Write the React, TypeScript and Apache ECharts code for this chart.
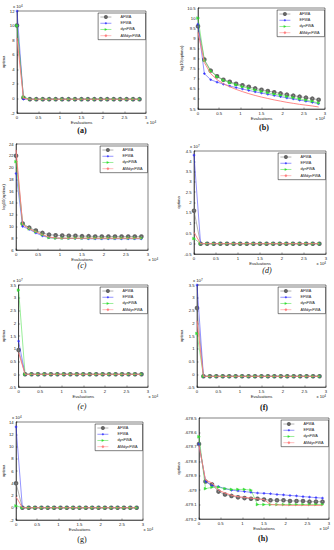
import React, { useEffect, useRef } from "react";
import * as echarts from "echarts";

const METHODS = ["AFWA", "EFWA", "dynFWA", "AMdynFWA"];
const XS = [0, 0.15, 0.3, 0.45, 0.6, 0.75, 0.9, 1.05, 1.2, 1.35, 1.5, 1.65, 1.8, 1.95, 2.1, 2.25, 2.4, 2.55, 2.7, 2.85];

// (a)
const A_AFWA = [10.0, 0.1, -0.1, -0.1, -0.1, -0.1, -0.1, -0.1, -0.1, -0.1, -0.1, -0.1, -0.1, -0.1, -0.1, -0.1, -0.1, -0.1, -0.1, -0.1];
const A_EFWA = [12.0, -0.1, -0.1, -0.1, -0.1, -0.1, -0.1, -0.1, -0.1, -0.1, -0.1, -0.1, -0.1, -0.1, -0.1, -0.1, -0.1, -0.1, -0.1, -0.1];
const A_DYN = [10.0, 0.2, -0.1, -0.1, -0.1, -0.1, -0.1, -0.1, -0.1, -0.1, -0.1, -0.1, -0.1, -0.1, -0.1, -0.1, -0.1, -0.1, -0.1, -0.1];
const A_AM = [8.3, 0.0, -0.1, -0.1, -0.1, -0.1, -0.1, -0.1, -0.1, -0.1, -0.1, -0.1, -0.1, -0.1, -0.1, -0.1, -0.1, -0.1, -0.1, -0.1];
// (b)
const B_AFWA = [9.6, 7.95, 7.4, 7.12, 6.95, 6.85, 6.75, 6.67, 6.6, 6.52, 6.45, 6.39, 6.33, 6.27, 6.21, 6.16, 6.11, 6.06, 6.01, 5.96];
const B_EFWA = [9.7, 7.25, 6.95, 6.83, 6.73, 6.64, 6.56, 6.49, 6.42, 6.35, 6.29, 6.23, 6.17, 6.11, 6.05, 6.0, 5.94, 5.89, 5.83, 5.76];
const B_DYN = [10.0, 7.9, 7.38, 7.1, 6.92, 6.8, 6.7, 6.6, 6.52, 6.44, 6.37, 6.3, 6.24, 6.18, 6.12, 6.06, 6.0, 5.94, 5.88, 5.8];
const B_AM = [9.3, 7.8, 7.25, 6.95, 6.75, 6.6, 6.47, 6.36, 6.26, 6.17, 6.09, 6.02, 5.95, 5.89, 5.83, 5.78, 5.73, 5.69, 5.65, 5.6];
// (c)
const C_AFWA = [22.0, 10.5, 9.8, 9.3, 8.9, 8.6, 8.5, 8.45, 8.4, 8.4, 8.35, 8.35, 8.3, 8.3, 8.3, 8.3, 8.3, 8.3, 8.3, 8.3];
const C_EFWA = [19.0, 10.0, 9.5, 8.9, 8.4, 8.1, 8.0, 8.0, 7.95, 7.95, 7.95, 7.9, 7.9, 7.9, 7.9, 7.9, 7.9, 7.9, 7.9, 7.9];
const C_DYN = [21.0, 10.4, 9.6, 9.1, 8.6, 8.1, 8.0, 8.0, 8.0, 8.0, 8.0, 8.0, 8.0, 8.0, 8.0, 8.0, 8.0, 8.0, 8.0, 8.0];
const C_AM = [23.0, 10.3, 9.6, 9.1, 8.6, 8.2, 8.05, 8.0, 8.0, 8.0, 8.0, 8.0, 8.0, 8.0, 8.0, 8.0, 8.0, 8.0, 8.0, 8.0];
// (d)
const D_AFWA = [1.6, 0, 0, 0, 0, 0, 0, 0, 0, 0, 0, 0, 0, 0, 0, 0, 0, 0, 0, 0];
const D_EFWA = [4.3, 0, 0, 0, 0, 0, 0, 0, 0, 0, 0, 0, 0, 0, 0, 0, 0, 0, 0, 0];
const D_DYN = [0.25, 0, 0, 0, 0, 0, 0, 0, 0, 0, 0, 0, 0, 0, 0, 0, 0, 0, 0, 0];
const D_AM = [0.55, 0, 0, 0, 0, 0, 0, 0, 0, 0, 0, 0, 0, 0, 0, 0, 0, 0, 0, 0];
// (e)
const E_AFWA = [0.95, 0, 0, 0, 0, 0, 0, 0, 0, 0, 0, 0, 0, 0, 0, 0, 0, 0, 0, 0];
const E_EFWA = [1.3, 0, 0, 0, 0, 0, 0, 0, 0, 0, 0, 0, 0, 0, 0, 0, 0, 0, 0, 0];
const E_DYN = [3.3, 0, 0, 0, 0, 0, 0, 0, 0, 0, 0, 0, 0, 0, 0, 0, 0, 0, 0, 0];
const E_AM = [0.85, 0, 0, 0, 0, 0, 0, 0, 0, 0, 0, 0, 0, 0, 0, 0, 0, 0, 0, 0];
// (f)
const F_AFWA = [2.6, -0.08, -0.08, -0.08, -0.08, -0.08, -0.08, -0.08, -0.08, -0.08, -0.08, -0.08, -0.08, -0.08, -0.08, -0.08, -0.08, -0.08, -0.08, -0.08];
const F_EFWA = [3.5, -0.08, -0.08, -0.08, -0.08, -0.08, -0.08, -0.08, -0.08, -0.08, -0.08, -0.08, -0.08, -0.08, -0.08, -0.08, -0.08, -0.08, -0.08, -0.08];
const F_DYN = [1.6, -0.08, -0.08, -0.08, -0.08, -0.08, -0.08, -0.08, -0.08, -0.08, -0.08, -0.08, -0.08, -0.08, -0.08, -0.08, -0.08, -0.08, -0.08, -0.08];
const F_AM = [2.1, -0.08, -0.08, -0.08, -0.08, -0.08, -0.08, -0.08, -0.08, -0.08, -0.08, -0.08, -0.08, -0.08, -0.08, -0.08, -0.08, -0.08, -0.08, -0.08];
// (g)
const G_AFWA = [4.0, 0, 0, 0, 0, 0, 0, 0, 0, 0, 0, 0, 0, 0, 0, 0, 0, 0, 0, 0];
const G_EFWA = [13.2, 0, 0, 0, 0, 0, 0, 0, 0, 0, 0, 0, 0, 0, 0, 0, 0, 0, 0, 0];
const G_DYN = [0.3, 0, 0, 0, 0, 0, 0, 0, 0, 0, 0, 0, 0, 0, 0, 0, 0, 0, 0, 0];
const G_AM = [1.8, 0, 0, 0, 0, 0, 0, 0, 0, 0, 0, 0, 0, 0, 0, 0, 0, 0, 0, 0];
// (h)
const H_AFWA = [-678.68, -678.94, -678.96, -679.01, -679.03, -679.04, -679.05, -679.055, -679.06, -679.06, -679.065, -679.07, -679.07, -679.07, -679.075, -679.075, -679.075, -679.08, -679.08, -679.08];
const H_EFWA = [-678.68, -678.94, -678.97, -678.975, -678.99, -679.0, -679.005, -679.01, -679.015, -679.02, -679.022, -679.025, -679.03, -679.033, -679.037, -679.04, -679.045, -679.048, -679.052, -679.055];
const H_DYN = [-678.63, -678.99, -678.98, -678.98, -678.99, -678.995, -678.995, -678.995, -679.0, -679.1, -679.1, -679.1, -679.1, -679.1, -679.1, -679.1, -679.1, -679.1, -679.1, -679.1];
const H_AM = [-678.69, -678.93, -678.95, -679.0, -679.02, -679.035, -679.045, -679.05, -679.055, -679.06, -679.065, -679.1, -679.102, -679.104, -679.105, -679.105, -679.105, -679.105, -679.105, -679.105];

const PANEL_DATA = [
  [A_AFWA, A_EFWA, A_DYN, A_AM],
  [B_AFWA, B_EFWA, B_DYN, B_AM],
  [C_AFWA, C_EFWA, C_DYN, C_AM],
  [D_AFWA, D_EFWA, D_DYN, D_AM],
  [E_AFWA, E_EFWA, E_DYN, E_AM],
  [F_AFWA, F_EFWA, F_DYN, F_AM],
  [G_AFWA, G_EFWA, G_DYN, G_AM],
  [H_AFWA, H_EFWA, H_DYN, H_AM],
];
const PANEL_LABELS = ["(a)", "(b)", "(c)", "(d)", "(e)", "(f)", "(g)", "(h)"];
const Y_NAMES = ["optima", "log10(optima)", "log10(optima)", "optima", "optima", "optima", "optima", "optima"];
const Y_MIN = [-2, 5.5, 6, -0.5, -0.5, -0.5, -2, -679.2];
const Y_MAX = [12, 10.5, 24, 4.5, 3.5, 3.5, 14, -678.5];
const Y_STEP = [2, 0.5, 2, 0.5, 0.5, 0.5, 2, 0.1];
const Y_EXP = ["4", "", "", "7", "7", "7", "4", ""];
const X_EXP = "4";

// layout: [left, top, width, height]
const GRIDS = [
  [17, 11, 129, 102],
  [198, 8, 127, 101],
  [15, 144, 133, 106],
  [194, 151, 132, 103],
  [17, 285, 131, 102],
  [197, 285, 129, 102],
  [16, 422, 127, 98],
  [199, 418, 130, 101],
];
const LABEL_POS = [
  [82, 130], [264, 127], [82, 265], [267, 270], [82, 406], [264, 407], [82, 539], [263, 538],
];
const LABEL_STYLE = [
  ["bold", "normal"], ["bold", "normal"], ["normal", "italic"], ["normal", "italic"],
  ["normal", "italic"], ["bold", "normal"], ["normal", "normal"], ["bold", "normal"],
];

const STAR = "path://M0,-10L2.5,-2.5L10,0L2.5,2.5L0,10L-2.5,2.5L-10,0L-2.5,-2.5Z";
const STYLES = [
  { color: "#666666", symbol: "emptyCircle", symbolSize: 2.6, width: 0.5, rotate: 0 },
  { color: "#2a2aff", symbol: STAR, symbolSize: 2.6, width: 0.5, rotate: 0 },
  { color: "#33dd33", symbol: "triangle", symbolSize: 2.8, width: 0.5, rotate: -90 },
  { color: "#ff7a7a", symbol: "none", symbolSize: 0, width: 0.9, rotate: 0 },
];

const FONT = "Liberation Sans, Arial, sans-serif";

function fmt(v: number) {
  return String(Math.round(v * 10) / 10);
}

export default function App() {
  const ref = useRef<HTMLDivElement>(null);
  useEffect(() => {
    if (!ref.current) return;
    const chart = echarts.init(ref.current, null, { renderer: "svg" });
    const grid: any[] = [];
    const xAxis: any[] = [];
    const yAxis: any[] = [];
    const series: any[] = [];
    const legend: any[] = [];
    const graphic: any[] = [];
    GRIDS.forEach((g, i) => {
      const [l, t, w, h] = g;
      const rightCol = l > 150;
      grid.push({ left: l, top: t, width: w, height: h, show: true, borderColor: "#000", borderWidth: 0.5, backgroundColor: "#fff" });
      xAxis.push({
        type: "value", gridIndex: i, min: 0, max: 3, interval: 0.5,
        axisLine: { show: true, onZero: false, lineStyle: { color: "#000", width: 0.5 } },
        axisTick: { show: true, inside: true, length: 1.5, lineStyle: { color: "#000", width: 0.4 } },
        splitLine: { show: false },
        axisLabel: { fontSize: 4.2, color: "#222", margin: 2.5, fontFamily: FONT, formatter: fmt },
        name: "Evaluations", nameLocation: "middle", nameGap: 6.5,
        nameTextStyle: { fontSize: 4.2, color: "#222", fontFamily: FONT },
      });
      yAxis.push({
        type: "value", gridIndex: i, min: Y_MIN[i], max: Y_MAX[i], interval: Y_STEP[i],
        axisLine: { show: true, onZero: false, lineStyle: { color: "#000", width: 0.5 } },
        axisTick: { show: true, inside: true, length: 1.5, lineStyle: { color: "#000", width: 0.4 } },
        splitLine: { show: false },
        axisLabel: { fontSize: 4.2, color: "#222", margin: 2.5, fontFamily: FONT, formatter: fmt },
        name: Y_NAMES[i], nameLocation: "middle", nameGap: i === 7 ? 19 : i === 1 || i === 2 || i === 3 || i === 5 ? 11 : 9,
        nameTextStyle: { fontSize: 4.2, color: "#222", fontFamily: FONT },
      });
      PANEL_DATA[i].forEach((vals, k) => {
        const st = STYLES[k];
        series.push({
          type: "line", name: METHODS[k], xAxisIndex: i, yAxisIndex: i,
          data: XS.map((x, j) => [x, vals[j]]),
          symbol: st.symbol, symbolSize: st.symbolSize, symbolRotate: st.rotate,
          showSymbol: st.symbol !== "none",
          lineStyle: { color: st.color, width: st.width },
          itemStyle: { color: st.color, borderColor: st.color, borderWidth: 0.4 },
          z: 2 + k,
          silent: true,
        });
      });
      legend.push({
        data: METHODS, orient: "vertical",
        right: 334 - (l + w) + 0.5, top: t + 2,
        itemWidth: 11, itemHeight: 2.6, itemGap: 2.2,
        padding: [2, 5, 2, 2],
        borderColor: "#000", borderWidth: 0.5, backgroundColor: "#fff",
        itemStyle: { borderWidth: 0.4 },
        lineStyle: { width: 0.5 },
        textStyle: { fontSize: 3.8, color: "#222", fontFamily: FONT, padding: [0, 0, 0, 4] },
        selectedMode: false,
      });
      if (Y_EXP[i]) {
        graphic.push({
          type: "text", left: l - 4, top: t - 7,
          style: {
            text: "{a|x 10}{s|" + Y_EXP[i] + "}",
            rich: {
              a: { fontSize: 4.2, fill: "#222", fontFamily: FONT },
              s: { fontSize: 3, fill: "#222", fontFamily: FONT, verticalAlign: "top", padding: [0, 0, 2, 0] },
            },
          },
        });
      }
      const expStyle = {
        text: "{a|x 10}{s|" + X_EXP + "}",
        rich: {
          a: { fontSize: 4.2, fill: "#222", fontFamily: FONT },
          s: { fontSize: 3, fill: "#222", fontFamily: FONT, verticalAlign: "top", padding: [0, 0, 2, 0] },
        },
      };
      graphic.push(rightCol
        ? { type: "text", right: 334 - (l + w), top: t + h + 7, style: expStyle }
        : { type: "text", left: l + w + 0.5, top: t + h + 7, style: expStyle });
      const [lx, ly] = LABEL_POS[i];
      graphic.push({
        type: "text", x: lx, y: ly,
        style: {
          text: PANEL_LABELS[i], fontSize: 8, fontWeight: LABEL_STYLE[i][0], fontStyle: LABEL_STYLE[i][1],
          fontFamily: "Liberation Serif, serif", fill: "#111",
          textAlign: "center", textVerticalAlign: "middle",
        },
      });
    });
    chart.setOption({
      animation: false,
      backgroundColor: "#fff",
      grid, xAxis, yAxis, series, legend, graphic,
    });
    return () => chart.dispose();
  }, []);
  return <div ref={ref} style={{ position: "fixed", left: 0, top: 0, width: 334, height: 550, background: "#fff" }} />;
}
